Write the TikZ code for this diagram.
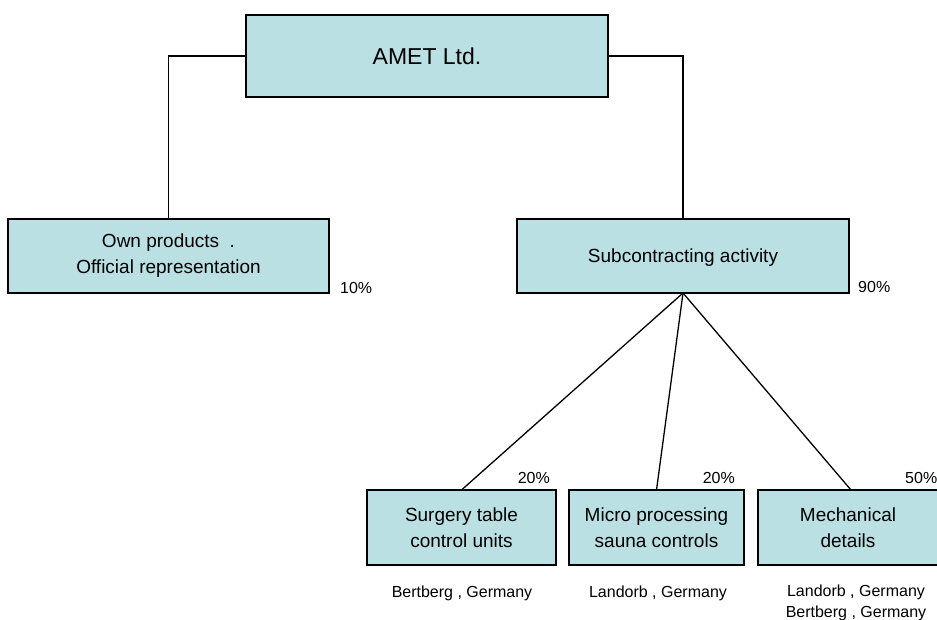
\documentclass[tikz,border=0pt]{standalone}
\usepackage{fontspec}
\setmainfont{Liberation Sans}
\definecolor{boxFill}{RGB}{186,224,227}
\begin{document}
\begin{tikzpicture}[x=1pt,y=-1pt,
  unit/.style={draw,line width=1.4pt,fill=boxFill,align=center,inner sep=0pt,outer sep=0pt,
    font=\fontsize{19}{26}\selectfont},
  link/.style={line width=1.3pt},
  share/.style={inner sep=0pt,font=\fontsize{16}{18}\selectfont},
  place/.style={inner sep=0pt,align=center,font=\fontsize{16}{21}\selectfont}]
\useasboundingbox (0,0) rectangle (937,619);
% boxes
\node[unit,minimum width=362pt,minimum height=82pt,font=\fontsize{23}{27}\selectfont] (amet) at (427,56) {AMET Ltd.};
\node[unit,minimum width=321pt,minimum height=74pt] (own) at (168.5,256) {Own products\ \ .\\Official representation};
\node[unit,minimum width=332pt,minimum height=74pt,text depth=0pt] (sub) at (683,256) {Subcontracting activity};
\node[unit,minimum width=189pt,minimum height=75pt] (surgery) at (461.5,527.5) {Surgery table\\control units};
\node[unit,minimum width=175pt,minimum height=75pt] (micro) at (656.5,527.5) {Micro processing\\sauna controls};
\node[unit,minimum width=180pt,minimum height=75pt] (mech) at (848,527.5) {Mechanical\\details};
% connectors
\draw[link] (amet.west) -| (own.north);
\draw[link] (amet.east) -| (sub.north);
\draw[link] (sub.south) -- (surgery.north);
\draw[link] (sub.south) -- (micro.north);
\draw[link] (sub.south) -- ([xshift=3pt]mech.north);
% shares
\node[share,anchor=base west] (p10) at (340,293) {10\%};
\node[share,anchor=base west] (p90) at (858,292) {90\%};
\node[share,anchor=base east] (p20a) at (550,483) {20\%};
\node[share,anchor=base east] (p20b) at (735,483) {20\%};
\node[share,anchor=base west] (p50) at (905,483) {50\%};
% places
\node[place,anchor=base] (surgeryAt) at (462,597) {Bertberg , Germany};
\node[place,anchor=base] (microAt) at (658,597) {Landorb , Germany};
\node[place,anchor=base] (mechAt) at (856,617) {Landorb , Germany\\Bertberg , Germany};
\end{tikzpicture}
\end{document}
